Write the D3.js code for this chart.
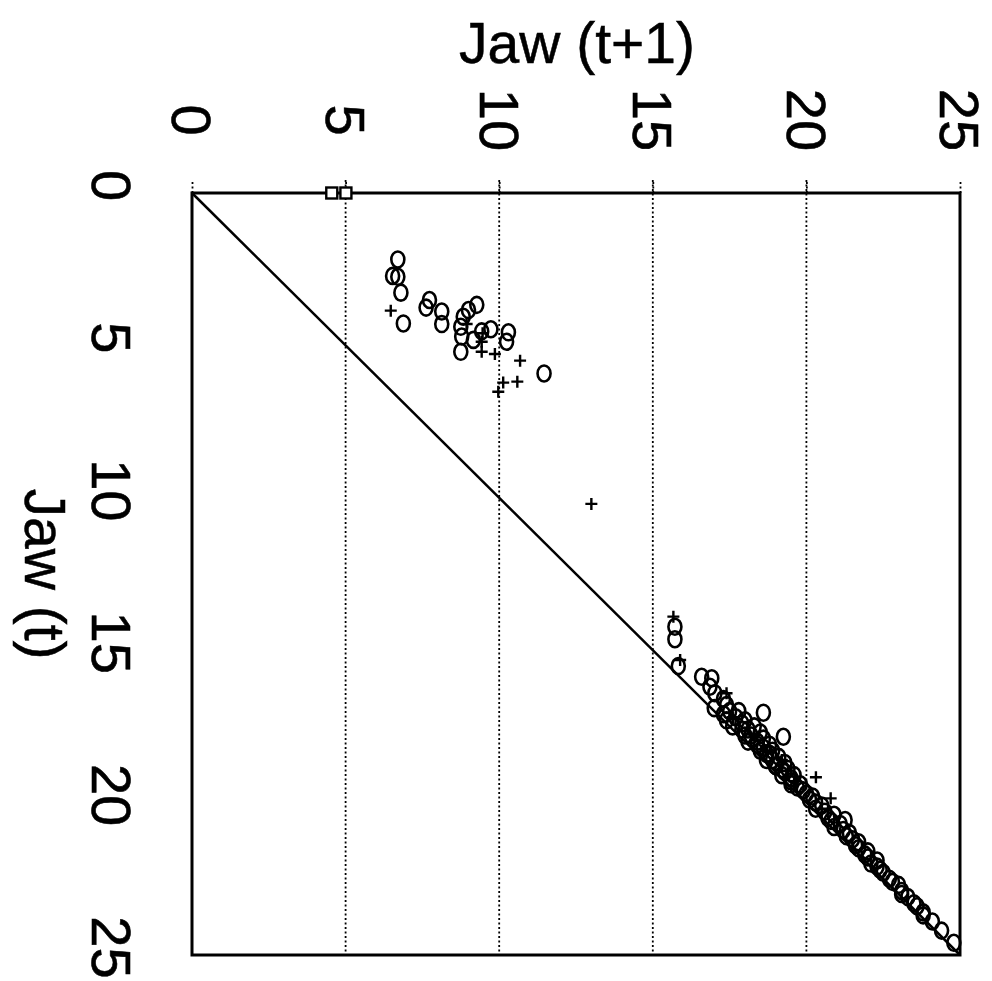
<!DOCTYPE html>
<html>
<head>
<meta charset="utf-8">
<script src="https://cdn.jsdelivr.net/npm/d3@7"></script>
<style>
  html, body { margin: 0; padding: 0; background: #fff; }
  svg { display: block; }
  text { font-family: "Liberation Sans", Arial, Helvetica, sans-serif; fill: #000; }
</style>
</head>
<body>
<svg id="chart" width="992" height="981"></svg>
<script>
// Jaw opening at step t versus step t+1 (return map), drawn turned a quarter clockwise:
// Jaw (t+1) runs left-to-right along the top, Jaw (t) runs top-to-bottom on the left.

const jawTicks = [0, 5, 10, 15, 20, 25];
const gridTicks = [5, 10, 15, 20];

// open-circle observations: Jaw (t) and Jaw (t+1)
const circleJawT = [
  2.18, 2.72, 2.75, 3.27, 4.28, 3.51, 3.76, 3.89, 4.30, 3.67, 3.84, 4.06, 4.39, 4.71, 5.21,
  4.82, 4.47, 4.57, 4.88, 4.54, 5.92,
  14.23, 14.64, 15.52, 15.87, 15.92, 16.20, 16.41, 17.05, 17.84, 20.57,
  16.6, 16.8, 17.0, 17.0, 17.2, 17.3, 17.4, 17.5, 17.6, 17.7, 17.8, 17.9, 18.0, 18.1, 18.2,
  18.3, 18.4, 18.5, 18.6, 18.7, 18.8, 18.9, 19.0, 19.1, 19.2, 19.4, 19.5, 19.7, 19.8, 20.0,
  20.1, 20.3, 20.4, 20.6, 20.7, 20.9, 21.0, 21.2, 21.3, 21.5, 21.6, 21.8, 21.9, 22.1, 22.3,
  22.5, 22.7, 22.9, 23.1, 23.4, 23.6, 23.9, 24.2, 24.6,
  16.9, 17.1, 17.3, 17.5, 17.6, 17.8, 18.0, 18.1, 18.3, 18.4, 18.6, 18.8, 18.9, 19.1, 19.3,
  19.4, 19.6, 19.9, 20.2, 20.5, 20.8, 21.1, 21.4, 21.7, 22.0, 22.2, 22.6, 23.0, 23.3, 23.7
];
const circleJawT1 = [
  6.70, 6.53, 6.70, 6.80, 6.88, 7.73, 7.62, 8.13, 8.13, 9.27, 9.00, 8.83, 8.75, 8.78, 8.75,
  9.16, 9.73, 10.30, 10.24, 9.43, 11.46,
  15.72, 15.72, 15.83, 16.59, 16.92, 16.86, 17.02, 18.60, 19.25, 21.26,
  17.3, 17.4, 17.5, 17.8, 17.7, 18.0, 17.9, 18.3, 18.1, 18.5, 18.2, 18.6, 18.4, 18.8, 18.6,
  18.9, 18.7, 19.1, 18.9, 19.3, 19.0, 19.4, 19.3, 19.6, 19.5, 19.8, 19.7, 20.0, 20.2, 20.3,
  20.5, 20.6, 20.9, 20.8, 21.1, 21.2, 21.4, 21.5, 21.7, 21.7, 22.0, 22.0, 22.3, 22.3, 22.5,
  22.7, 23.0, 23.1, 23.3, 23.6, 23.8, 24.1, 24.4, 24.8,
  17.0, 17.3, 17.4, 17.6, 17.9, 18.0, 18.1, 18.4, 18.5, 18.8, 18.7, 19.0, 19.2, 19.2, 19.5,
  19.5, 19.9, 20.1, 20.3, 20.7, 20.9, 21.3, 21.6, 21.9, 22.1, 22.4, 22.8, 23.1, 23.5, 23.8
];

// plus observations: Jaw (t) and Jaw (t+1)
const plusJawT = [
  3.86, 4.30, 4.60, 4.88, 5.21, 5.28, 5.50, 6.19, 6.22, 6.52,
  10.2,
  13.90, 15.32, 16.41, 19.17, 19.86, 17.2, 17.8, 18.3, 18.6, 19.3, 20.2
];
const plusJawT1 = [
  6.47, 8.94, 9.46, 9.43, 9.43, 9.86, 10.68, 10.59, 10.13, 9.97,
  13.0,
  15.67, 15.89, 17.40, 20.31, 20.79, 17.6, 18.3, 18.7, 19.2, 19.6, 20.5
];

// square observations at Jaw (t) = 0
const squareJawT = [0, 0];
const squareJawT1 = [4.55, 5.01];

const svg = d3.select("#chart");

const x = d3.scaleLinear().domain([0, 25]).range([192, 960]);   // Jaw (t+1)
const y = d3.scaleLinear().domain([0, 25]).range([193, 955]);   // Jaw (t)

// dotted grid lines at Jaw (t+1) = 5..20, poking just above the frame
svg.append("g")
  .selectAll("line")
  .data(gridTicks)
  .join("line")
  .attr("x1", d => x(d)).attr("x2", d => x(d))
  .attr("y1", y(0) - 13).attr("y2", y(25))
  .attr("stroke", "#000")
  .attr("stroke-width", 1.8)
  .attr("stroke-dasharray", "2,2.5");

// top axis: Jaw (t+1)
const topAxis = svg.append("g")
  .attr("transform", `translate(0,${y(0)})`)
  .call(d3.axisTop(x).tickValues(jawTicks).tickSize(13).tickFormat(d3.format("d")));
topAxis.select(".domain").remove();
topAxis.selectAll(".tick line")
  .attr("stroke-width", 1.8)
  .attr("stroke-dasharray", "2,2.5");
topAxis.selectAll(".tick text")
  .attr("y", null)
  .attr("dy", "0.36em")
  .attr("transform", "translate(0,-73) rotate(90)")
  .attr("text-anchor", "middle")
  .style("font-size", "56px")
  .style("stroke", "#000")
  .style("stroke-width", "0.6px");

// left axis: Jaw (t)
const leftAxis = svg.append("g")
  .attr("transform", `translate(${x(0)},0)`)
  .call(d3.axisLeft(y).tickValues(jawTicks).tickSize(0).tickFormat(d3.format("d")));
leftAxis.select(".domain").remove();
leftAxis.selectAll(".tick text")
  .attr("x", null)
  .attr("dy", "0.36em")
  .attr("transform", "translate(-80,-8) rotate(90)")
  .attr("text-anchor", "middle")
  .style("font-size", "56px")
  .style("stroke", "#000")
  .style("stroke-width", "0.6px");

// frame
svg.append("rect")
  .attr("x", x(0)).attr("y", y(0))
  .attr("width", x(25) - x(0)).attr("height", y(25) - y(0))
  .attr("fill", "none")
  .attr("stroke", "#000")
  .attr("stroke-width", 3);

// identity line Jaw (t+1) = Jaw (t)
svg.append("line")
  .attr("x1", x(0)).attr("y1", y(0))
  .attr("x2", x(25)).attr("y2", y(25))
  .attr("stroke", "#000")
  .attr("stroke-width", 2.5);

// axis titles
svg.append("text")
  .attr("x", (x(0) + x(25)) / 2 + 1)
  .attr("y", 63)
  .attr("text-anchor", "middle")
  .style("font-size", "57px")
  .style("stroke", "#000")
  .style("stroke-width", "0.5px")
  .text("Jaw (t+1)");

svg.append("text")
  .attr("transform", `translate(25,${(y(0) + y(25)) / 2}) rotate(90)`)
  .attr("text-anchor", "middle")
  .style("font-size", "57px")
  .style("stroke", "#000")
  .style("stroke-width", "0.5px")
  .text("Jaw (t)");

// markers
const circles = circleJawT.map((t, i) => ({ t, t1: circleJawT1[i] }));
const pluses = plusJawT.map((t, i) => ({ t, t1: plusJawT1[i] }));
const squares = squareJawT.map((t, i) => ({ t, t1: squareJawT1[i] }));

svg.append("g")
  .selectAll("ellipse")
  .data(circles)
  .join("ellipse")
  .attr("cx", d => x(d.t1))
  .attr("cy", d => y(d.t))
  .attr("rx", 6.5)
  .attr("ry", 8)
  .attr("fill", "none")
  .attr("stroke", "#000")
  .attr("stroke-width", 2.6);

svg.append("g")
  .selectAll("path")
  .data(pluses)
  .join("path")
  .attr("transform", d => `translate(${x(d.t1)},${y(d.t)})`)
  .attr("d", "M-6,0H6M0,-6V6")
  .attr("fill", "none")
  .attr("stroke", "#000")
  .attr("stroke-width", 2.4);

svg.append("g")
  .selectAll("rect")
  .data(squares)
  .join("rect")
  .attr("x", d => x(d.t1) - 5.5)
  .attr("y", d => y(d.t) - 5.5)
  .attr("width", 11)
  .attr("height", 11)
  .attr("fill", "#fff")
  .attr("stroke", "#000")
  .attr("stroke-width", 2.4);
</script>
</body>
</html>
